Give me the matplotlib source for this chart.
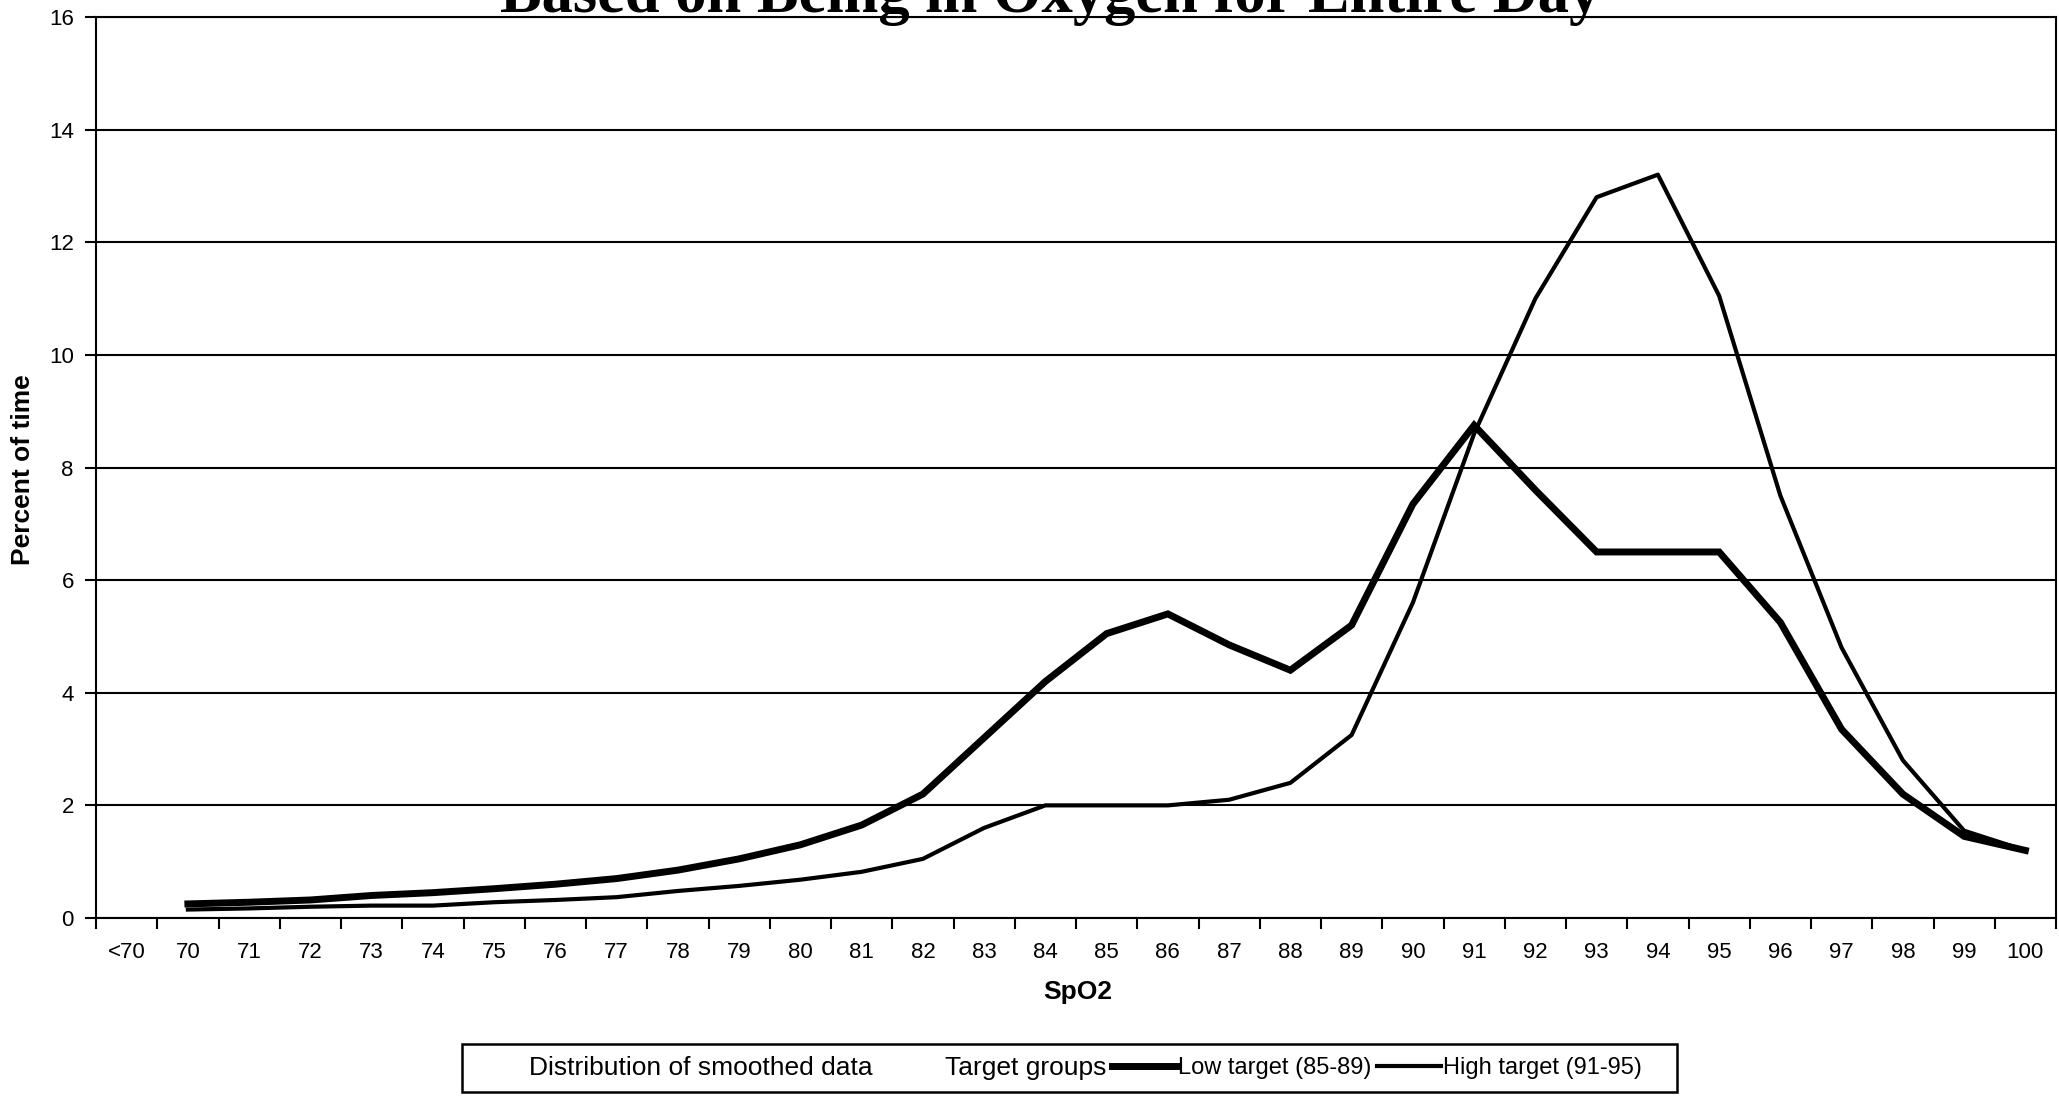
import matplotlib
matplotlib.use('Agg')
import matplotlib.pyplot as plt
from matplotlib.patches import Rectangle

# categories on the x axis (Excel style, labels centred between ticks)
categories = ['<70'] + [str(v) for v in range(70, 101)]

# percent of time at each SpO2 level, 70..100 (no value for <70)
spo2 = list(range(70, 101))
low_target = [0.25, 0.28, 0.32, 0.40, 0.45, 0.52, 0.60, 0.70, 0.85, 1.05,
              1.30, 1.65, 2.20, 3.20, 4.20, 5.05, 5.40, 4.85, 4.40, 5.20,
              7.35, 8.75, 7.60, 6.50, 6.50, 6.50, 5.25, 3.35, 2.20, 1.45, 1.20]
high_target = [0.15, 0.17, 0.20, 0.22, 0.22, 0.28, 0.32, 0.37, 0.48, 0.57,
               0.68, 0.82, 1.05, 1.60, 2.00, 2.00, 2.00, 2.10, 2.40, 3.25,
               5.60, 8.60, 11.00, 12.80, 13.20, 11.05, 7.50, 4.80, 2.80, 1.55, 1.20]

title = 'Based on Being in Oxygen for Entire Day'

plt.rcParams['font.family'] = ['Liberation Sans', 'DejaVu Sans']

W, H = 2059, 1100
fig = plt.figure(figsize=(W / 100, H / 100), dpi=100)
ax = fig.add_axes([96 / W, 1 - 918 / H, (2056 - 96) / W, (918 - 17) / H])

# x positions = category index
xpos = [categories.index(str(v)) for v in spo2]
line_low, = ax.plot(xpos, low_target, color='black', lw=5.0,
                    solid_joinstyle='miter', label='Low target (85-89)', zorder=3)
line_high, = ax.plot(xpos, high_target, color='black', lw=3.0,
                     label='High target (91-95)', zorder=3)

ax.set_xlim(-0.5, len(categories) - 0.5)
ax.set_ylim(0, 16)

# ticks at category boundaries, labels in centres
ax.set_xticks([i - 0.5 for i in range(len(categories) + 1)])
ax.set_xticklabels([])
ax.set_xticks(range(len(categories)), minor=True)
ax.set_xticklabels(categories, minor=True, fontsize=16)
ax.tick_params(axis='x', which='major', direction='out', length=8, width=1.5)
ax.tick_params(axis='x', which='minor', length=0, pad=17)

ax.set_yticks(range(0, 17, 2))
ax.set_yticklabels([str(v) for v in range(0, 17, 2)], fontsize=16)
ax.tick_params(axis='y', direction='out', length=8, width=1.5, pad=8)

ax.yaxis.grid(True, color='black', lw=1.5)
ax.set_axisbelow(True)
for s in ax.spines.values():
    s.set_linewidth(1.5)

fig.text(1078 / W, 1 - 992 / H, 'SpO2', ha='center', va='center',
         fontsize=19, fontweight='bold')
fig.text(23 / W, 1 - 470 / H, 'Percent of time', ha='center', va='center',
         rotation=90, fontsize=19, fontweight='bold')

# title, clipped at the top of the figure
fig.text(1050 / W, 1 - 12 / H, title, ha='center', va='baseline',
         fontsize=45, fontweight='bold', family=['Liberation Serif', 'DejaVu Serif'],
         zorder=5)

# legend box
fig.patches.append(Rectangle((462 / W, 1 - 1092 / H), (1677 - 462) / W, 48 / H,
                             transform=fig.transFigure, fill=False,
                             edgecolor='black', lw=1.8))
fig.text(529 / W, 1 - 1068 / H, 'Distribution of smoothed data',
         ha='left', va='center', fontsize=19)
fig.text(945 / W, 1 - 1068 / H, 'Target groups',
         ha='left', va='center', fontsize=19)
for handle, x0 in [(line_low, 1112), (line_high, 1377)]:
    fig.legend(handles=[handle], loc='center left',
               bbox_to_anchor=(x0 / W, 1 - 1068 / H), frameon=False,
               fontsize=17, handlelength=2.7, handletextpad=0.1,
               borderpad=0, borderaxespad=0)

fig.savefig('out.png', dpi=100)
